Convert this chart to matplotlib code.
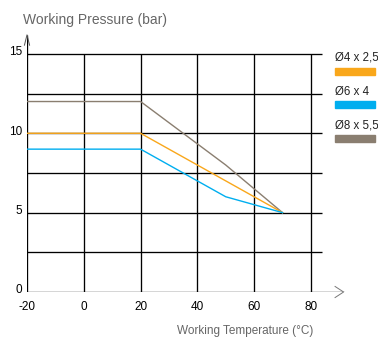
import matplotlib
matplotlib.use("Agg")
import matplotlib.pyplot as plt
from matplotlib.patches import Rectangle

plt.rcParams['font.family'] = ['Liberation Sans', 'DejaVu Sans']

# Data
series_names = ["Ø4 x 2,5", "Ø6 x 4", "Ø8 x 5,5"]
series_colors = ["#F9A71B", "#00AEEF", "#8A7E70"]
temp_o = [-20, 20, 70]
pres_o = [10, 10, 5]
temp_b = [-20, 20, 50, 70]
pres_b = [9, 9, 6, 5]
temp_g = [-20, 20, 50, 70]
pres_g = [12, 12, 8, 5]
x_ticks = [-20, 0, 20, 40, 60, 80]
y_ticks = [0, 5, 10, 15]
y_grid = [2.5, 5, 7.5, 10, 12.5, 15]

W, H = 378, 342
fig = plt.figure(figsize=(W / 100, H / 100), dpi=100)
left_px, right_px = 27, 345
bottom_px, top_px = 292, 30.1
ax = fig.add_axes([left_px / W, (H - bottom_px) / H, (right_px - left_px) / W, (bottom_px - top_px) / H])
ax.set_xlim(-20, 92)
ax.set_ylim(0, 16.5)
ax.axis('off')

lw = 0.95
for y in y_grid:
    ax.plot([-20, 84], [y, y], color='black', lw=lw, solid_capstyle='butt')
for x in x_ticks[1:]:
    ax.plot([x, x], [0, 15], color='black', lw=lw, solid_capstyle='butt')
ax.plot([-20, 91.5], [0, 0], color='black', lw=lw, solid_capstyle='butt')
ax.plot([-20, -20], [0, 16.2], color='black', lw=lw, solid_capstyle='butt')
ax.plot([88.5, 91.5, 88.5], [0.35, 0, -0.35], color='#777777', lw=0.7, clip_on=False)
ax.plot([-20.9, -20, -19.1], [15.55, 16.2, 15.55], color='#555555', lw=0.7, clip_on=False)

ax.plot(temp_g, pres_g, color=series_colors[2], lw=1.0, zorder=3)
ax.plot(temp_o, pres_o, color=series_colors[0], lw=1.0, zorder=4)
ax.plot(temp_b, pres_b, color=series_colors[1], lw=1.0, zorder=5)

for x in x_ticks:
    ax.text(x, -0.95, str(x), ha='center', va='center', fontsize=8.5, color='black')
for y in y_ticks:
    ax.text(-21.6, y + 0.1, str(y), ha='right', va='center', fontsize=8.5, color='black')

fig.text(23 / W, 1 - 20 / H, "Working Pressure (bar)", ha='left', va='center', fontsize=10, color='#666666')
fig.text(177 / W, 1 - 331 / H, "Working Temperature (°C)", ha='left', va='center', fontsize=8.5, color='#666666')

leg_y_text = [58, 92, 126]
leg_y_bar = [68, 101, 135]
for name, c, ty, by in zip(series_names, series_colors, leg_y_text, leg_y_bar):
    fig.text(335 / W, 1 - ty / H, name, ha='left', va='center', fontsize=8.3, color='#222222')
    fig.add_artist(Rectangle((335 / W, 1 - (by + 7) / H), 40 / W, 7 / H, color=c, transform=fig.transFigure))

fig.savefig("out.png", dpi=100)
